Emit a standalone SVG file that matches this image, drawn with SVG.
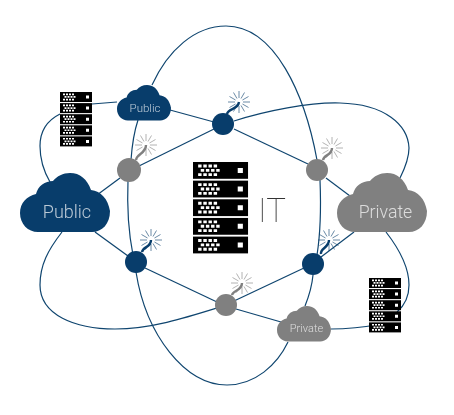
<svg xmlns="http://www.w3.org/2000/svg" xmlns:xlink="http://www.w3.org/1999/xlink" width="454" height="415" viewBox="0 0 454 415">
<style>
.c{fill:none;stroke:#0f456f;stroke-width:1.2}
.b{fill:#083d6b}
.g{fill:#808080}
.t{font-family:"Roboto","Liberation Sans",sans-serif;font-weight:300;fill:#fff;opacity:.72;text-anchor:middle}
.sb{stroke:#083d6b}
.sg{stroke:#808080}
.fuse{fill:none;stroke-width:2.4}
.ray{fill:none;stroke-width:1;stroke-opacity:.6}
</style>
<defs>
<filter id="gray" x="0" y="0" width="1" height="1"><feOffset dx="0" dy="0"/></filter>
<path id="cloud" d="M18 59C8 59 0 51 0 40C0 30 7 23 16 21C18 13 25 8 33 8C37 3 43 0 50 0C60 0 67 6 71 17C81 18 88 26 90 38C90 51 82 59 72 59Z"/>
<g id="spark">
<path class="ray" d="M0-4V-11M0 4V11M-4 0H-11M4 0H11M3.460-2L9.500-5.500M-3.460-2L-9.500-5.500M3.460 2L9.500 5.500M-3.460 2L-9.500 5.500M2-3.460L5.500-9.500M-2-3.460L-5.500-9.500M2 3.460L5.500 9.500M-2 3.460L-5.500 9.500"/>
</g>
<g id="row">
<rect width="32" height="10" fill="#000"/>
<path fill="#fff" d="M3 1.500h2v1.700h-2zM6 1.500h2v1.700h-2zM9 1.500h2v1.700h-2zM12 1.500h2v1.700h-2zM4.500 4.100h2v1.700h-2zM7.500 4.100h2v1.700h-2zM10.500 4.100h2v1.700h-2zM13.500 4.100h2v1.700h-2zM3 6.700h2v1.700h-2zM6 6.700h2v1.700h-2zM9 6.700h2v1.700h-2zM12 6.700h2v1.700h-2zM26 3.500h3v3h-3z"/>
</g>
<g id="server">
<use xlink:href="#row" href="#row"/>
<use xlink:href="#row" href="#row" y="11.100"/>
<use xlink:href="#row" href="#row" y="22.200"/>
<use xlink:href="#row" href="#row" y="33.300"/>
<use xlink:href="#row" href="#row" y="44.400"/>
</g>
</defs>

<g id="connectors">
<path class="c" d="M152 85C168 50 195 26 226 26C275 26 305 95 317 160"/>
<path class="c" d="M320 180C321 205 321 230 317 255"/>
<path class="c" d="M138 120C134 132 132 146 131 160"/>
<path class="c" d="M128 180C127 205 128 230 133 255"/>
<path class="c" d="M136 272C146 335 185 385 227 385C255 385 277 365 288 342"/>
<path class="c" d="M170 110L214 122"/>
<path class="c" d="M214 129L139 166"/>
<path class="c" d="M120 178L97 195"/>
<path class="c" d="M95 232L128 256"/>
<path class="c" d="M145 268L217 302"/>
<path class="c" d="M234 301L304 268"/>
<path class="c" d="M236 309L281 322"/>
<path class="c" d="M305 306C309 296 312 286 313 275"/>
<path class="c" d="M321 257L354 232"/>
<path class="c" d="M326 178L350 196"/>
<path class="c" d="M308 164L234 129"/>
<path class="c" d="M234 121C265 111 310 102 340 103C385 104 408 125 409 148C409 158 405 168 400 178"/>
<path class="c" d="M50 182C43 170 40 158 40 146C40 130 48 120 60 114"/>
<path class="c" d="M92 104L117 102"/>
<path class="c" d="M62 232C48 250 40 265 40 285C40 315 75 329 115 329C150 329 185 318 217 308"/>
<path class="c" d="M386 232C400 250 409 268 409 285C409 297 404 306 397 312"/>
<path class="c" d="M331 329C350 329 365 327 382 324"/>
</g>

<g id="cloud-public-small" class="b">
<use xlink:href="#cloud" href="#cloud" transform="translate(117 85) scale(.6)"/>
<text class="t" x="145" y="112" font-size="11.500">Public</text>
</g>
<g id="cloud-public-large" class="b">
<use xlink:href="#cloud" href="#cloud" transform="translate(20 173)"/>
<text class="t" x="67" y="218" font-size="18">Public</text>
</g>
<g id="cloud-private-large" class="g">
<use xlink:href="#cloud" href="#cloud" transform="translate(337 173)"/>
<text class="t" x="385.500" y="218" font-size="17.700">Private</text>
</g>
<g id="cloud-private-small" class="g">
<use xlink:href="#cloud" href="#cloud" transform="translate(277 306) scale(.6)"/>
<text class="t" x="306.500" y="332" font-size="11">Private</text>
</g>

<g id="server-left"><use xlink:href="#server" href="#server" transform="translate(60 92)"/></g>
<g id="server-right"><use xlink:href="#server" href="#server" transform="translate(369 278)"/></g>
<g id="server-center"><use xlink:href="#server" href="#server" transform="translate(193 162) scale(1.72 1.68)"/></g>
<g id="label-it" filter="url(#gray)"><text x="272" y="222" font-size="33" text-anchor="middle" fill="#333" style="font-family:'Roboto','Liberation Sans',sans-serif;font-weight:100">IT</text></g>

<g id="node-top" class="sb">
<circle class="b" stroke="none" cx="223" cy="124" r="11"/>
<path class="fuse" d="M227 114C228 108 238 110 239 102"/>
<use xlink:href="#spark" href="#spark" x="239" y="102"/>
</g>
<g id="node-left-upper" class="sg">
<circle class="g" stroke="none" cx="129" cy="170" r="12"/>
<path class="fuse" d="M136 160C137 153 146 154 146 145"/>
<use xlink:href="#spark" href="#spark" x="146" y="145"/>
</g>
<g id="node-right-upper" class="sg">
<circle class="g" stroke="none" cx="317" cy="170" r="11"/>
<path class="fuse" d="M323 160C324 154 332 156 332 148"/>
<use xlink:href="#spark" href="#spark" x="332" y="148"/>
</g>
<g id="node-left-lower" class="sb">
<circle class="b" stroke="none" cx="136" cy="262" r="11"/>
<path class="fuse" d="M142 252C143 246 151 248 151 240"/>
<use xlink:href="#spark" href="#spark" x="151" y="240"/>
</g>
<g id="node-right-lower" class="sb">
<circle class="b" stroke="none" cx="313" cy="264" r="11"/>
<path class="fuse" d="M321 254C320 248 329 248 329 240"/>
<use xlink:href="#spark" href="#spark" x="329" y="240"/>
</g>
<g id="node-bottom" class="sg">
<circle class="g" stroke="none" cx="226" cy="305" r="11"/>
<path class="fuse" d="M232 295C233 290 242 291 242 283"/>
<use xlink:href="#spark" href="#spark" x="242" y="283"/>
</g>
</svg>
